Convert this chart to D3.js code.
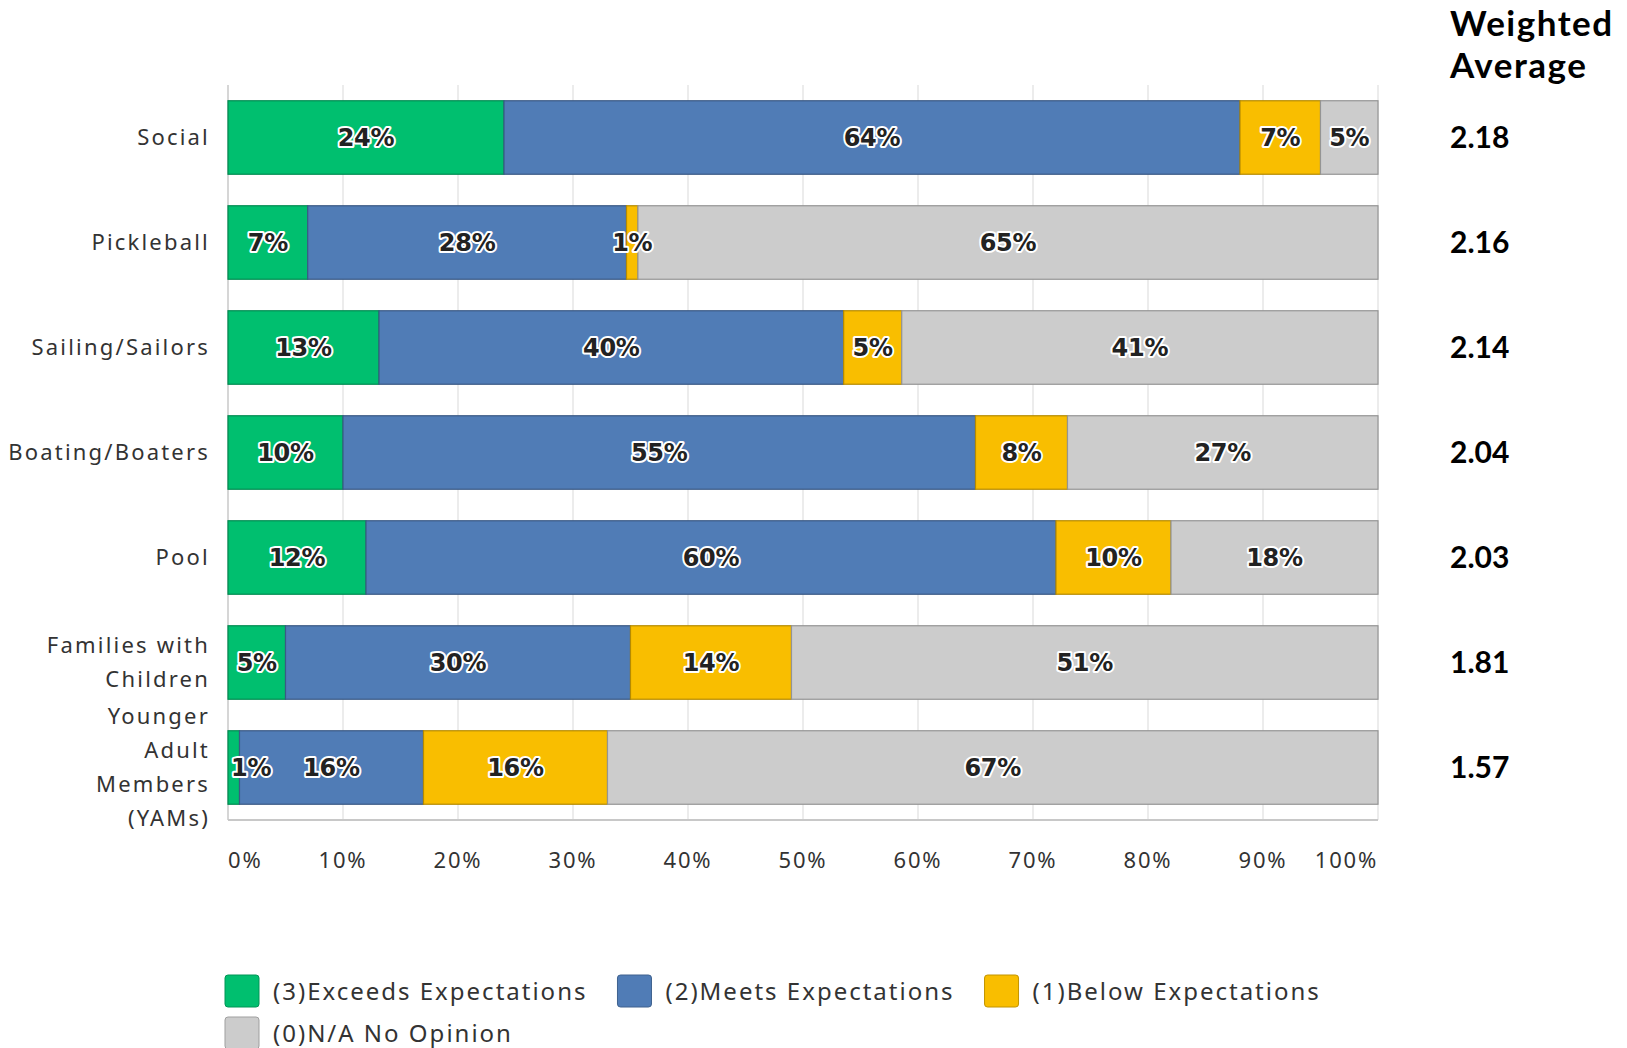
<!DOCTYPE html>
<html><head><meta charset="utf-8">
<script src="https://cdn.jsdelivr.net/npm/d3@7"></script>
<style>
html,body{margin:0;padding:0;background:#fff;}
svg{display:block;}
</style></head>
<body>
<svg id="chart" width="1627" height="1048"></svg>
<script>
const categories = ["Social", "Pickleball", "Sailing/Sailors", "Boating/Boaters", "Pool", "Families with\nChildren", "Younger\nAdult\nMembers\n(YAMs)"];
const seriesNames = ["(3)Exceeds Expectations", "(2)Meets Expectations", "(1)Below Expectations", "(0)N/A No Opinion"];
const exceeds   = [24, 7, 13, 10, 12, 5, 1];
const meets     = [64, 28, 40, 55, 60, 30, 16];
const below     = [7, 1, 5, 8, 10, 14, 16];
const noOpinion = [5, 65, 41, 27, 18, 51, 67];
const weightedAvg = ["2.18", "2.16", "2.14", "2.04", "2.03", "1.81", "1.57"];
const xTicks = [0, 10, 20, 30, 40, 50, 60, 70, 80, 90, 100];
const colors = ["#00bf6f", "#507cb6", "#f9be00", "#cccccc"];

const svg = d3.select("#chart");
const M = {left: 228, right: 1378, top: 85, bottom: 820};

const seriesArrays = [exceeds, meets, below, noOpinion];
const rows = categories.map((c, i) => {
  const r = {cat: c};
  seriesNames.forEach((s, j) => r[s] = seriesArrays[j][i]);
  return r;
});
const stack = d3.stack().keys(seriesNames).offset(d3.stackOffsetExpand);
const stacked = stack(rows);

const x = d3.scaleLinear().domain([0, 1]).range([M.left, M.right]);
const y = d3.scaleBand().domain(categories).range([M.top, M.bottom]).paddingInner(0.3).paddingOuter(0.15);

const labelFont = "'Noto Sans', sans-serif";

// gridlines
svg.append("g").selectAll("line").data(xTicks).join("line")
  .attr("x1", d => x(d / 100)).attr("x2", d => x(d / 100))
  .attr("y1", M.top).attr("y2", M.bottom)
  .attr("stroke", d => d === 0 ? "#c8c8c8" : "#e6e6e6").attr("stroke-width", 1.5);
// bottom axis line
svg.append("line").attr("x1", M.left).attr("x2", M.right).attr("y1", M.bottom).attr("y2", M.bottom)
  .attr("stroke", "#c8c8c8").attr("stroke-width", 2);

// bars
const gSeries = svg.append("g").selectAll("g").data(stacked).join("g")
  .attr("fill", (d, i) => colors[i])
  .attr("stroke", (d, i) => d3.color(colors[i]).darker(0.9))
  .attr("stroke-width", 1.2);
gSeries.selectAll("rect").data(d => d).join("rect")
  .attr("x", d => x(d[0])).attr("width", d => x(d[1]) - x(d[0]))
  .attr("y", d => y(d.data.cat)).attr("height", y.bandwidth());

// bar labels
const lblG = svg.append("g");
stacked.forEach((s, si) => {
  s.forEach((d, i) => {
    const val = seriesArrays[si][i];
    const txt = val + "%";
    const t = lblG.append("text")
      .attr("y", y(d.data.cat) + y.bandwidth() / 2)
      .attr("dy", "0.36em")
      .attr("text-anchor", "middle")
      .attr("font-family", "'DejaVu Sans', sans-serif")
      .attr("font-weight", "bold")
      .attr("font-size", 24)
      .attr("letter-spacing", "-0.3")
      .attr("fill", "#222")
      .attr("stroke", "#fff").attr("stroke-width", 4).attr("stroke-linejoin", "round")
      .attr("paint-order", "stroke")
      .text(txt);
    const w = t.node().getComputedTextLength();
    let cx = (x(d[0]) + x(d[1])) / 2;
    cx = Math.max(cx, M.left + w / 2 + 3);
    t.attr("x", cx);
  });
});

// category labels
const catG = svg.append("g");
categories.forEach(c => {
  const lines = c.split("\n");
  const lh = 34;
  const cy = y(c) + y.bandwidth() / 2;
  const t = catG.append("text")
    .attr("text-anchor", "end")
    .attr("font-family", labelFont)
    .attr("font-size", 22)
    .attr("letter-spacing", "2.2")
    .attr("fill", "#333");
  lines.forEach((ln, k) => {
    t.append("tspan").attr("x", 210)
      .attr("y", cy + (k - (lines.length - 1) / 2) * lh)
      .attr("dy", "0.36em").text(ln);
  });
});

// x tick labels
svg.append("g").selectAll("text").data(xTicks).join("text")
  .attr("x", d => d === 0 ? x(0) : d === 100 ? x(1) : x(d / 100))
  .attr("y", 860).attr("dy", "0.36em")
  .attr("text-anchor", d => d === 0 ? "start" : d === 100 ? "end" : "middle")
  .attr("font-family", labelFont).attr("font-size", 22).attr("letter-spacing", "1.8")
  .attr("fill", "#333")
  .text(d => d + "%");

// weighted average
const waFont = "Lato, 'DejaVu Sans', sans-serif";
svg.append("text").attr("x", 1450).attr("y", 36)
  .attr("font-family", waFont).attr("font-weight", "bold").attr("font-size", 35).attr("letter-spacing", "1.5").attr("fill", "#000")
  .text("Weighted");
svg.append("text").attr("x", 1450).attr("y", 78)
  .attr("font-family", waFont).attr("font-weight", "bold").attr("font-size", 35).attr("letter-spacing", "1.5").attr("fill", "#000")
  .text("Average");
svg.append("g").selectAll("text").data(categories).join("text")
  .attr("x", 1450).attr("y", d => y(d) + y.bandwidth() / 2).attr("dy", "0.36em")
  .attr("font-family", waFont).attr("font-weight", "bold").attr("font-size", 30).attr("fill", "#000")
  .text((d, i) => weightedAvg[i]);

// legend
const legG = svg.append("g");
let lx = 225, ly = 975;
const rowH = 42;
seriesNames.forEach((s, i) => {
  const g = legG.append("g");
  g.append("rect").attr("x", 0).attr("y", 0).attr("width", 34).attr("height", 32).attr("rx", 3)
    .attr("fill", colors[i]).attr("stroke", d3.color(colors[i]).darker(0.7)).attr("stroke-width", 1);
  const t = g.append("text").attr("x", 48).attr("y", 16).attr("dy", "0.36em")
    .attr("font-family", labelFont).attr("font-size", 24).attr("letter-spacing", "2").attr("fill", "#333").text(s);
  const w = 48 + t.node().getComputedTextLength();
  if (lx + w > M.right) { lx = 225; ly += rowH; }
  g.attr("transform", `translate(${lx},${ly})`);
  lx += w + 30;
});
</script>
</body></html>
